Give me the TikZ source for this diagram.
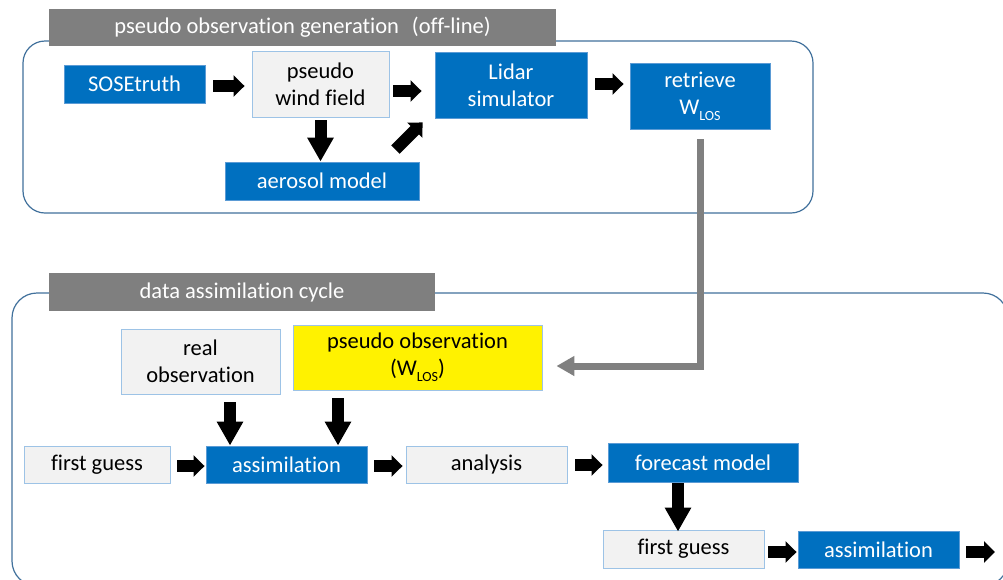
\documentclass[tikz,border=0pt]{standalone}
\usepackage{fontspec}
\setmainfont{Carlito}[Ligatures={NoCommon}]
\usetikzlibrary{arrows.meta,calc}
\definecolor{boxblue}{HTML}{0070C0}
\definecolor{edgeblue}{HTML}{5B9BD5}
\definecolor{lightedge}{HTML}{9DC3E6}
\definecolor{lightfill}{HTML}{F2F2F2}
\definecolor{bargray}{HTML}{7F7F7F}
\definecolor{groupedge}{HTML}{41719C}
\definecolor{connector}{HTML}{808080}
\newcommand{\wlos}{W\raisebox{-0.28em}{\fontsize{14}{14}\selectfont LOS}}
\tikzset{
  basebox/.style={inner sep=0pt, align=center, line width=0.9pt, font=\fontsize{22.5}{27}\selectfont},
  bluebox/.style={basebox, draw=edgeblue, fill=boxblue, text=white},
  greybox/.style={basebox, draw=lightedge, fill=lightfill, text=black},
  yelbox/.style={basebox, draw=lightedge, fill=yellow, text=black},
  barbox/.style={inner sep=0pt, fill=bargray, text=white, font=\fontsize{22.5}{27}\selectfont},
  groupline/.style={draw=groupedge, line width=1.2pt},
  blkh/.style={line width=12pt, black, -{Triangle[length=11pt,width=21pt]}},
  blkv/.style={line width=12pt, black, -{Triangle[length=24pt,width=25pt]}},
  grayarr/.style={line width=7pt, connector, line join=miter, -{Triangle[length=18pt,width=19pt]}}
}
\begin{document}
\begin{tikzpicture}[x=1pt,y=-1pt]
\useasboundingbox (0,0) rectangle (1003,579);
\fill[white] (0,0) rectangle (1003,579);

% group frames
\draw[groupline, rounded corners=22pt] (23,41) rectangle (813,213);
\draw[groupline, rounded corners=25pt] (12,293) rectangle (1008,586);

% title bars
\node[barbox, minimum width=507pt, minimum height=37pt] (tbar) at (302.5,27.5)
  {pseudo observation generation\hspace{13pt}(off-line)};
\node[barbox, minimum width=386pt, minimum height=38pt] (bbar) at (242,292)
  {data assimilation cycle};

% top group nodes
\node[bluebox, minimum width=141pt, minimum height=38pt] (sose) at (134.5,84) {SOSEtruth};
\node[greybox, minimum width=137pt, minimum height=66pt] (pw) at (320.5,84) {pseudo\\wind field};
\node[bluebox, minimum width=194pt, minimum height=38pt] (ae) at (322,181) {aerosol model};
\node[bluebox, minimum width=152pt, minimum height=66pt] (li) at (511,85) {Lidar\\simulator};
\node[bluebox, minimum width=140pt, minimum height=66pt] (rt) at (700,96) {retrieve\\\wlos};

% bottom group nodes
\node[greybox, minimum width=159pt, minimum height=65pt] (ro) at (200.5,361.5) {real\\observation};
\node[yelbox, minimum width=249pt, minimum height=65pt] (po) at (417.5,357.5) {pseudo observation\\(\wlos)};
\node[greybox, minimum width=146pt, minimum height=37pt] (fg) at (97,464.5) {first guess};
\node[bluebox, minimum width=161pt, minimum height=37pt] (as) at (286.5,464.5) {assimilation};
\node[greybox, minimum width=161pt, minimum height=37pt] (an) at (486.5,464.5) {analysis};
\node[bluebox, minimum width=190pt, minimum height=39pt] (fm) at (703,462.5) {forecast model};
\node[greybox, minimum width=161pt, minimum height=38pt] (fgb) at (683.5,549) {first guess};
\node[bluebox, minimum width=161pt, minimum height=37pt] (asb) at (878.5,549.5) {assimilation};
\coordinate (out) at (995,552);

% top arrows
\draw[blkh, shorten <=8pt, shorten >=7pt] ($(sose.east)+(0,2)$) -- ($(pw.west)+(0,2)$);
\draw[blkh, shorten <=4pt, shorten >=13pt] ($(pw.east)+(0,7)$) -- ($(pw.east -| li.west)+(0,7)$);
\draw[blkv, shorten <=3pt] (pw.south) -- (pw.south |- ae.north);
\draw[blkh] ($(ae.north east)+(-24,-12)$) -- ($(li.south west)+(-12,4)$);
\draw[blkh, shorten <=8pt, shorten >=6pt] ($(li.east)+(0,-1)$) -- ($(li.east -| rt.west)+(0,-1)$);

% connector from retrieve to pseudo observation
\draw[grayarr] ($(rt.south)+(0,10)$) |- ($(po.east)+(14,8.5)$);

% bottom arrows
\coordinate (roa) at ($(ro.south)+(29.5,8)$);
\coordinate (poa) at ($(po.south)+(-79.5,8)$);
\draw[blkv] (roa) -- (roa |- as.north);
\draw[blkv] (poa) -- (poa |- as.north);
\draw[blkh, shorten <=7pt, shorten >=1pt] ($(fg.east)+(0,1.5)$) -- ($(as.west)+(0,1.5)$);
\draw[blkh, shorten <=7pt, shorten >=3pt] ($(as.east)+(0,1.5)$) -- ($(an.west)+(0,1.5)$);
\draw[blkh, shorten <=8pt, shorten >=5pt] ($(an.east)+(0,0.5)$) -- ($(an.east -| fm.west)+(0,0.5)$);
\coordinate (fma) at ($(fm.south)+(-25,1)$);
\draw[blkv, shorten >=-2pt] (fma) -- (fma |- fgb.north);
\draw[blkh, shorten <=4pt, shorten >=1pt] ($(fgb.east)+(0,3)$) -- ($(fgb.east -| asb.west)+(0,3)$);
\draw[blkh, shorten <=7pt] ($(asb.east)+(0,2.5)$) -- (out);
\end{tikzpicture}
\end{document}
